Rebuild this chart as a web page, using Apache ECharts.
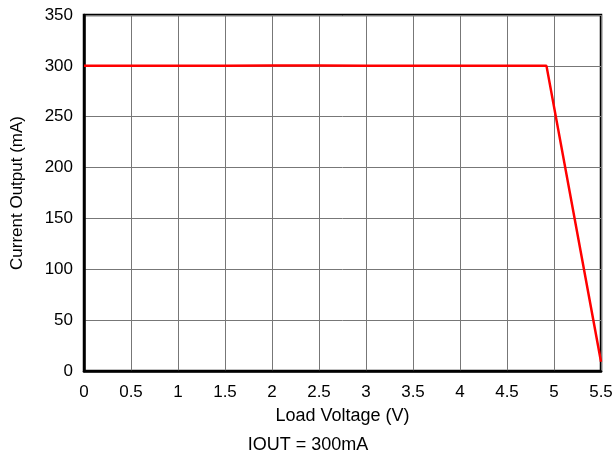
<!DOCTYPE html>
<html>
<head>
<meta charset="utf-8">
<script src="https://cdn.jsdelivr.net/npm/echarts@6/dist/echarts.min.js"></script>
<style>
  html, body { margin: 0; padding: 0; background: #fff; }
  #main { width: 616px; height: 457px; }
</style>
</head>
<body>
<div id="main"></div>
<script>
// values
var voltage = [0, 0.5, 1, 1.5, 2, 2.5, 3, 3.5, 4, 4.5, 4.92, 5.5]
var current = [300, 300, 300, 300, 300.3, 300.3, 300.2, 300.1, 300, 300, 300, 9]
var xMin = 0, xMax = 5.5, xStep = 0.5
var yMin = 0, yMax = 350, yStep = 50
var xTitle = 'Load Voltage (V)'
var yTitle = 'Current Output (mA)'
var caption = 'IOUT = 300mA'

var font = 'Liberation Sans, Arial, sans-serif'
var chart = echarts.init(document.getElementById('main'))

// 绘制图表
chart.setOption({
  animation: false,
  grid: {
    left: 84,
    right: 15,
    top: 15,
    bottom: 86,
    containLabel: false,
    outerBoundsMode: 'none',
    show: true,
    borderColor: '#000',
    borderWidth: 2.5,
    backgroundColor: 'transparent'
  },
  graphic: [{
    type: 'text',
    left: 'center',
    top: 436,
    style: { text: caption, font: '18px ' + font, fill: '#000' }
  }],
  xAxis: {
    type: 'value',
    min: xMin,
    max: xMax,
    interval: xStep,
    name: xTitle,
    nameLocation: 'middle',
    nameGap: 36,
    nameTextStyle: { color: '#000', fontSize: 18, fontFamily: font },
    axisLine: { show: true, lineStyle: { color: '#000', width: 2.5 } },
    axisTick: { show: false },
    axisLabel: { color: '#000', fontSize: 17, fontFamily: font, margin: 13 },
    splitLine: { show: true, lineStyle: { color: '#777', width: 1 } }
  },
  yAxis: {
    type: 'value',
    min: yMin,
    max: yMax,
    interval: yStep,
    name: yTitle,
    nameLocation: 'middle',
    nameGap: 58,
    nameTextStyle: { color: '#000', fontSize: 17, fontFamily: font },
    axisLine: { show: true, lineStyle: { color: '#000', width: 2.5 } },
    axisTick: { show: false },
    axisLabel: { color: '#000', fontSize: 17, fontFamily: font, margin: 11 },
    splitLine: { show: true, lineStyle: { color: '#777', width: 1 } }
  },
  series: [{
    type: 'line',
    data: voltage.map(function (v, i) { return [v, current[i]] }),
    showSymbol: false,
    lineStyle: { color: '#ff0000', width: 2.5 }
  }]
})
</script>
</body>
</html>
